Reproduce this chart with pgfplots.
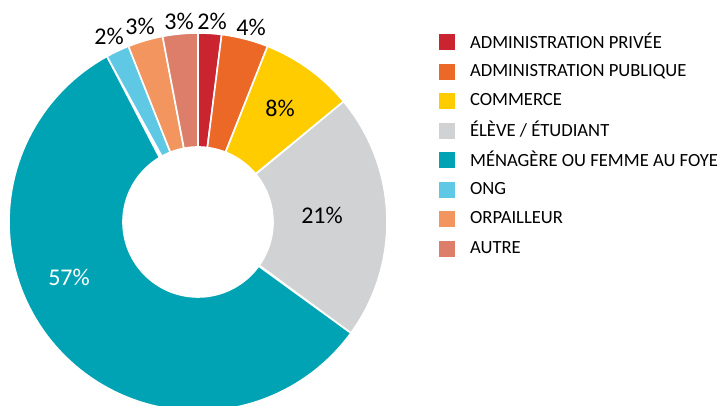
\documentclass[border=0pt]{standalone}
\usepackage{fontspec}
\setmainfont{Carlito}
\usepackage{pgfplots}
\usepackage{pgfplotstable}
\pgfplotsset{compat=1.18}
\definecolor{cPriv}{RGB}{201,36,48}
\definecolor{cPub}{RGB}{236,104,38}
\definecolor{cCom}{RGB}{255,204,0}
\definecolor{cEle}{RGB}{209,210,212}
\definecolor{cMen}{RGB}{0,163,180}
\definecolor{cOng}{RGB}{95,200,228}
\definecolor{cOrp}{RGB}{243,149,95}
\definecolor{cAut}{RGB}{220,126,106}
\pgfplotstableread{
value
2
4
8
21
57
2
3
3
}\pietable
\begin{document}
\begin{tikzpicture}
\begin{axis}[
  scale only axis, width=360pt, height=203pt,
  xmin=-198, xmax=522, ymin=-184, ymax=222,
  hide axis, clip=true, no markers,
  cycle list={{fill=cPriv,draw=white},{fill=cPub,draw=white},{fill=cCom,draw=white},{fill=cEle,draw=white},{fill=cMen,draw=white},{fill=cOng,draw=white},{fill=cOrp,draw=white},{fill=cAut,draw=white}},
  legend image code/.code={\fill[#1,draw=none] (0pt,-4pt) rectangle (8pt,4pt);},
  legend entries={ADMINISTRATION PRIVÉE, ADMINISTRATION PUBLIQUE, COMMERCE, ÉLÈVE / ÉTUDIANT, MÉNAGÈRE OU FEMME AU FOYE, ONG, ORPAILLEUR, AUTRE},
  legend cell align=left,
  legend style={draw=none, fill=none, at={(axis cs:241.5,194.6)}, anchor=north west,
    inner sep=0pt, outer sep=0pt, row sep=0pt,
    font=\fontsize{9.3}{11}\selectfont,
    nodes={inner sep=0pt, minimum height=14.76pt, anchor=west},
    /tikz/every odd column/.style={column sep=7.3pt}},
]
\pgfmathsetmacro{\cum}{0}
\pgfplotsforeachungrouped \i in {0,...,7}{
  \pgfplotstablegetelem{\i}{value}\of\pietable
  \pgfmathsetmacro{\A}{90-3.6*\cum}
  \pgfmathsetmacro{\cum}{\cum+\pgfplotsretval}
  \pgfmathsetmacro{\B}{90-3.6*\cum}
  \edef\doplot{\noexpand\addplot+[line width=0.8pt, line join=round, domain=0:2.01, samples=202]
    ({(x<=1 ? 189 : (x<=2 ? 75 : 189))*cos(x<=1 ? \A+(\B-\A)*x : (x<=2 ? \B+(\A-\B)*(x-1) : \A))},
     {(x<=1 ? 189 : (x<=2 ? 75 : 189))*sin(x<=1 ? \A+(\B-\A)*x : (x<=2 ? \B+(\A-\B)*(x-1) : \A))});}
  \doplot
}
\begin{scope}[font=\fontsize{12}{14}\selectfont]
\node at (axis cs:14,201) {2\%};
\node at (axis cs:53,195) {4\%};
\node at (axis cs:82,114) {8\%};
\node at (axis cs:124,7) {21\%};
\node[white] at (axis cs:-129,-55) {57\%};
\node at (axis cs:-89,186) {2\%};
\node at (axis cs:-58,196) {3\%};
\node at (axis cs:-19,201) {3\%};
\end{scope}
\end{axis}
\pgfresetboundingbox
\path (current axis.south west) rectangle (current axis.north east);
\end{tikzpicture}
\end{document}
